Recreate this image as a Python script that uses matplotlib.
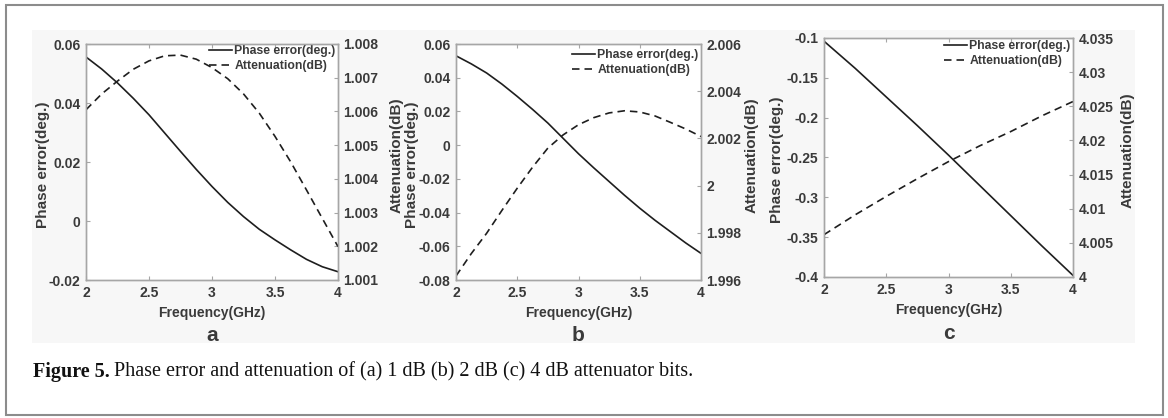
import matplotlib
matplotlib.use("Agg")
import matplotlib.pyplot as plt
from matplotlib.ticker import FuncFormatter, MultipleLocator
from matplotlib.patches import Rectangle

plt.rcParams['font.family'] = ['Liberation Sans', 'DejaVu Sans']
plt.rcParams['axes.unicode_minus'] = False

# ---------------- data ----------------
freq_fine = [2.0, 2.125, 2.25, 2.375, 2.5, 2.625, 2.75, 2.875, 3.0,
             3.125, 3.25, 3.375, 3.5, 3.625, 3.75, 3.875, 4.0]

phase_a = [0.0556, 0.0515, 0.0468, 0.0416, 0.0360, 0.0298, 0.0236, 0.0175, 0.0117,
           0.0063, 0.0015, -0.0028, -0.0064, -0.0098, -0.0130, -0.0155, -0.0172]
atten_a = [1.00605, 1.00652, 1.00690, 1.00725, 1.00750, 1.00765, 1.00767, 1.00755, 1.00730,
           1.00697, 1.00652, 1.00595, 1.00526, 1.00450, 1.00367, 1.00283, 1.00199]

phase_b = [0.0530, 0.0482, 0.0428, 0.0362, 0.0289, 0.0212, 0.0131, 0.0040, -0.0051,
           -0.0135, -0.0216, -0.0297, -0.0374, -0.0446, -0.0513, -0.0580, -0.0642]
atten_b = [1.99617, 1.99712, 1.99798, 1.99895, 1.99989, 2.00078, 2.00159, 2.00215, 2.00258,
           2.00288, 2.00308, 2.00317, 2.00312, 2.00295, 2.00268, 2.00240, 2.00208]

freq_c = [2.0, 2.25, 2.5, 2.75, 3.0, 3.25, 3.5, 3.75, 4.0]
phase_c = [-0.104, -0.138, -0.174, -0.210, -0.247, -0.285, -0.323, -0.361, -0.398]
atten_c = [4.0062, 4.0091, 4.0118, 4.0144, 4.0169, 4.0192, 4.0213, 4.0236, 4.0257]

panels = [
    dict(x=freq_fine, ph=phase_a, at=atten_a, ylim=(-0.02, 0.06), ystep=0.02,
         y2lim=(1.001, 1.008), y2step=0.001, tag='a'),
    dict(x=freq_fine, ph=phase_b, at=atten_b, ylim=(-0.08, 0.06), ystep=0.02,
         y2lim=(1.996, 2.006), y2step=0.002, tag='b'),
    dict(x=freq_c, ph=phase_c, at=atten_c, ylim=(-0.4, -0.1), ystep=0.05,
         y2lim=(4.0, 4.035), y2step=0.005, tag='c'),
]

# ---------------- layout ----------------
W, H = 1168, 418
fig = plt.figure(figsize=(W / 100, H / 100), dpi=100)
fig.patch.set_facecolor('white')

def px(l, t, r, b):
    return [l / W, 1 - b / H, (r - l) / W, (b - t) / H]

boxes = [px(86, 44, 338, 280), px(456, 44, 701, 280), px(824, 38, 1073, 277)]
left_lab_x = [-0.143, -0.151, -0.16]
right_lab_x = [1.204, 1.18, 1.193]
leg_top = [1.005, 0.99, 1.0]

# light grey image background and outer frame
fig.patches.append(Rectangle((32 / W, 1 - 343 / H), (1135 - 32) / W, (343 - 30) / H,
                             transform=fig.transFigure, facecolor='#f7f7f7',
                             edgecolor='none', zorder=-10))
fig.patches.append(Rectangle((6 / W, 1 - 415 / H), (1163 - 6) / W, (415 - 5) / H,
                             transform=fig.transFigure, facecolor='none',
                             edgecolor='#8c8c8c', linewidth=1.5, zorder=-5))

fmt = FuncFormatter(lambda v, p: f"{round(v, 6):g}")
spine_c = '#a6a6a6'
txt_c = '#3a3a3a'
line_c = '#1e1e1e'

for i, (p, box) in enumerate(zip(panels, boxes)):
    ax = fig.add_axes(box)
    ax.set_facecolor('white')
    ax2 = ax.twinx()
    l1, = ax.plot(p['x'], p['ph'], color=line_c, lw=1.2, label='Phase error(deg.)')
    l2, = ax2.plot(p['x'], p['at'], color=line_c, lw=1.2, linestyle=(0, (4.5, 3)),
                   label='Attenuation(dB)')
    ax.set_xlim(2, 4)
    ax.set_ylim(*p['ylim'])
    ax2.set_ylim(*p['y2lim'])
    ax.xaxis.set_major_locator(MultipleLocator(0.5))
    ax.yaxis.set_major_locator(MultipleLocator(p['ystep']))
    ax2.yaxis.set_major_locator(MultipleLocator(p['y2step']))
    for a in (ax, ax2):
        a.xaxis.set_major_formatter(fmt)
        a.yaxis.set_major_formatter(fmt)
        for s in a.spines.values():
            s.set_color(spine_c)
            s.set_linewidth(1.0)
        a.tick_params(direction='in', length=3, width=0.8, color=spine_c,
                      labelcolor=txt_c, labelsize=10, pad=4)
        for lab in a.get_xticklabels() + a.get_yticklabels():
            lab.set_fontweight('bold')
    ax.tick_params(axis='x', top=True)
    ax.set_xlabel('Frequency(GHz)', fontsize=10, fontweight='bold', color=txt_c, labelpad=5)
    ax.set_ylabel('Phase error(deg.)', fontsize=11, fontweight='bold', color=txt_c)
    ax.yaxis.set_label_coords(left_lab_x[i], 0.49)
    ax2.set_ylabel('Attenuation(dB)', fontsize=11, fontweight='bold', color=txt_c)
    ax2.yaxis.set_label_coords(right_lab_x[i], 0.53)
    ax.text(0.5, -0.235, p['tag'], transform=ax.transAxes, ha='center', va='center',
            fontsize=15, fontweight='bold', color=txt_c)
    leg = ax.legend([l1, l2], [l1.get_label(), l2.get_label()], loc='upper right',
                    bbox_to_anchor=(1.0, leg_top[i]), frameon=False,
                    prop={'weight': 'bold', 'size': 8.8}, handlelength=1.9,
                    handletextpad=0.15, borderaxespad=0.0, borderpad=0.2,
                    labelspacing=0.25)
    for t in leg.get_texts():
        t.set_color(txt_c)

# caption
cap_y = 1 - 372 / H
t1 = fig.text(33 / W, cap_y, 'Figure 5.', fontsize=14.5, fontweight='bold',
              family=['Liberation Serif'], va='center', ha='left', color='#111111')
fig.canvas.draw()
bb = t1.get_window_extent(renderer=fig.canvas.get_renderer())
fig.text(bb.x1 / W + 4 / W, cap_y,
         'Phase error and attenuation of (a) 1 dB (b) 2 dB (c) 4 dB attenuator bits.',
         fontsize=14.5, family=['Liberation Serif'], va='center', ha='left', color='#111111')

fig.savefig('out.png', dpi=100)
